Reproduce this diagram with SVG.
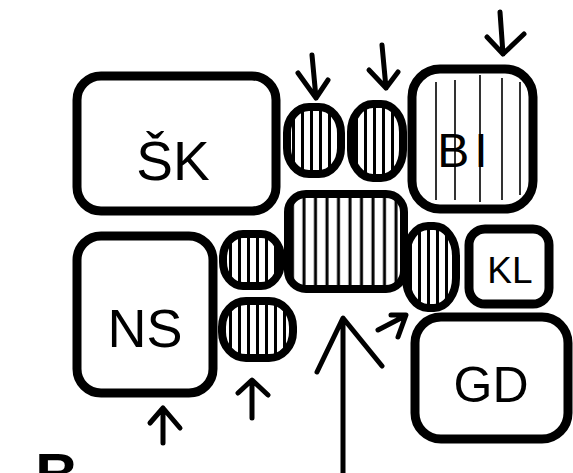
<svg xmlns="http://www.w3.org/2000/svg" width="573" height="473" viewBox="0 0 573 473">
<defs>
<style>
.box{fill:#fff;stroke:#000;stroke-width:9;stroke-linejoin:round}
.ov{stroke:#000;stroke-width:8}
.hat{stroke:#000;stroke-width:3;fill:none}
.thin{stroke:#000;stroke-width:1.6;fill:none}
.arr{stroke:#000;stroke-width:5;fill:none;stroke-linecap:round;stroke-linejoin:round}
.lbl{font-family:"Liberation Sans","DejaVu Sans",sans-serif;fill:#000;text-anchor:middle}
</style>
<pattern id="hp" patternUnits="userSpaceOnUse" width="9" height="20" x="1">
<rect width="9" height="20" fill="#fff"/>
<line x1="4.5" y1="0" x2="4.5" y2="20" stroke="#000" stroke-width="3"/>
</pattern>
<pattern id="hpw" patternUnits="userSpaceOnUse" width="11.5" height="20" x="0">
<rect width="11.5" height="20" fill="#fff"/>
<line x1="5" y1="0" x2="5" y2="20" stroke="#000" stroke-width="3"/>
</pattern>
</defs>
<rect width="573" height="473" fill="#fff"/>

<g id="SK">
<rect class="box" x="77" y="76" width="199" height="135" rx="24"/>
<text class="lbl" x="173" y="180" font-size="55">ŠK</text>
</g>

<g id="BI">
<rect class="box" x="412" y="69" width="121" height="140" rx="28"/>
<path class="thin" d="M436 82V200M455 80V200M480 75V202M502 78V200M520 82V195"/>
<text class="lbl" x="465" y="167" font-size="48" letter-spacing="5">BI</text>
</g>

<g id="oval1">
<rect class="ov" fill="url(#hp)" x="287" y="107" width="54" height="67" rx="22" ry="26"/>
</g>

<g id="oval2">
<rect class="ov" fill="url(#hp)" x="351" y="104" width="52" height="74" rx="22" ry="28"/>
</g>

<g id="center">
<rect class="ov" stroke-width="9" fill="url(#hpw)" x="288" y="194" width="116" height="95" rx="18"/>
</g>

<g id="ovalUL">
<rect class="ov" fill="url(#hp)" x="223" y="234" width="58" height="52" rx="20" ry="24"/>
</g>

<g id="ovalLL">
<rect class="ov" fill="url(#hp)" x="222" y="301" width="71" height="57" rx="24" ry="26"/>
</g>

<g id="NS">
<rect class="box" x="77" y="236" width="136" height="157" rx="24"/>
<text class="lbl" x="145" y="347" font-size="54">NS</text>
</g>

<g id="ovalR">
<rect class="ov" fill="url(#hp)" x="406" y="226" width="50" height="82" rx="22" ry="30"/>
</g>

<g id="KL">
<rect class="box" x="469" y="229" width="80" height="75" rx="16"/>
<text class="lbl" x="510" y="283" font-size="37">KL</text>
</g>

<g id="GD">
<rect class="box" x="415" y="317" width="153" height="122" rx="26"/>
<text class="lbl" x="491" y="402" font-size="50">GD</text>
</g>

<g id="connectors">
<path class="arr" d="M312 55L316 98M298 73L316 98L328 80"/>
<path class="arr" d="M382 45L386 88M369 70L386 88L398 72"/>
<path class="arr" d="M500 12L503 54M487 37L503 54L524 34"/>
<path class="arr" d="M163 443L163 409M150 423L163 408L180 428"/>
<path class="arr" d="M252 418L252 381M238 393L252 380L268 395"/>
<path class="arr" d="M343 473L343 320M317 372L343 318L382 366"/>
<path class="arr" d="M378 330L405 316M391 315L406 315L398 337"/>
</g>

<text class="lbl" x="57" y="495" font-size="60" font-weight="bold">B</text>
</svg>
